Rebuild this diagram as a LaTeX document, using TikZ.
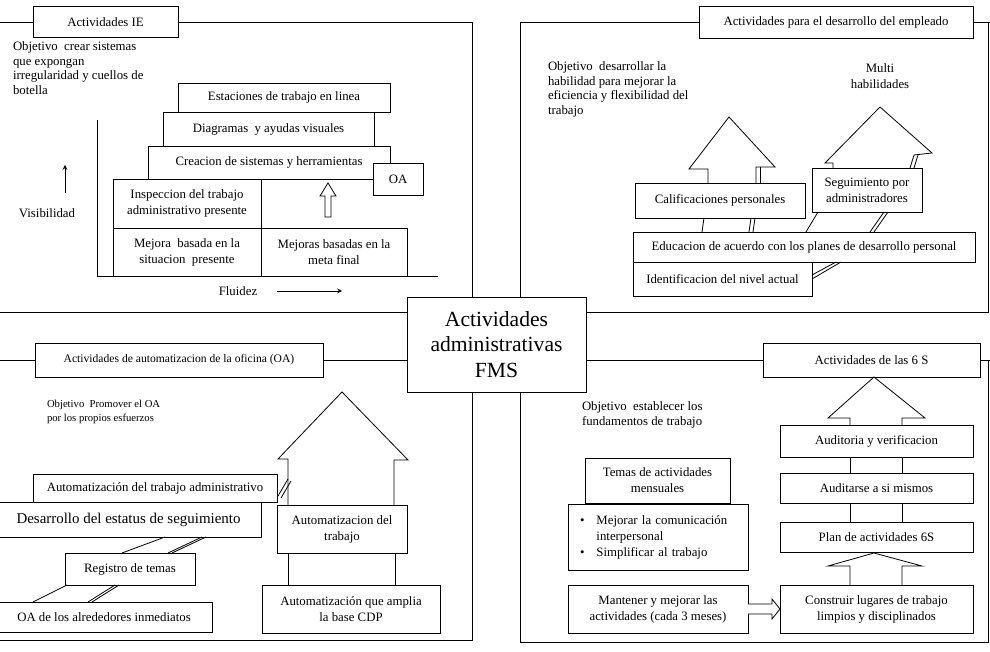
\documentclass[tikz,border=0pt]{standalone}
\usepackage{fontspec}
\setmainfont{Liberation Serif}
\usetikzlibrary{calc}
\begin{document}
\begin{tikzpicture}[x=0.75pt, y=-0.75pt,
  every node/.style={inner sep=0pt, outer sep=0pt},
  ln/.style={line width=0.6pt, line join=miter},
  box/.style={draw, line width=0.6pt, fill=white, align=center,
    font=\fontsize{9.6}{12}\selectfont},
  sz/.style 2 args={minimum width=#1*0.75pt, minimum height=#2*0.75pt},
  txt/.style={align=left, anchor=north west, font=\fontsize{9.6}{10.9}\selectfont},
  ctxt/.style={align=center, font=\fontsize{9.6}{11.5}\selectfont}]

\fill[white] (0,0) rectangle (990,652);
\useasboundingbox (0,0) rectangle (990,652);

% reference lines of the four frames
\coordinate (cl) at (472,0);
\coordinate (cr) at (520,0);
\coordinate (xr) at (988,0);
\coordinate (xe) at (990,0);
\coordinate (yt) at (0,22);
\coordinate (ya) at (0,312);
\coordinate (yb) at (0,360);
\coordinate (yd) at (0,640);
\coordinate (ye) at (0,642);

% centre
\node[box, sz={179}{95}, font=\fontsize{16.2}{19}\selectfont] (fms) at (496.5,344.5)
  {Actividades\\administrativas\\FMS};

% ---------------- IE activities (top left) ----------------
\node[box, sz={145}{31}] (tIE) at (105.5,22) {Actividades IE};
\node[txt] (o1) at (13,42) {Objetivo\ \ crear sistemas\\que expongan\\irregularidad y cuellos de\\botella};

\draw[ln] (97,120) -- (97,276) -- (438,276);
\node[ctxt] (vis) at (47,213) {Visibilidad};
\draw[ln, ->, >=stealth] (65,193) -- (65,165);
\node[ctxt] (flu) at (238,291) {Fluidez};
\draw[ln, ->, >=stealth] (277,291) -- (342,291);

\node[box, sz={212}{29}] (est) at (284,97.5) {Estaciones de trabajo en linea};
\node[box, sz={211}{34}] (dia) at (268.5,129) {Diagramas\ \ y ayudas visuales};
\node[box, sz={242}{33}] (cre) at (269,162.5) {Creacion de sistemas y herramientas};
\node[box, sz={148}{49}] (ins) at (187,203.5) {Inspeccion del trabajo\\administrativo presente};
\node[box, sz={148}{48}] (mej) at (187,252) {Mejora\ \ basada en la\\situacion\ \ presente};
\node[box, sz={146}{48}] (met) at (334,252) {Mejoras basadas en la\\meta final};
\node[box, sz={50}{32}] (oa) at (398,179) {OA};
\draw[ln] (ins.north east) -- (oa.west |- ins.north);
\draw[ln, fill=white] (325,217) -- (325,196) -- (320,196) -- (328,183) -- (336,196)
  -- (331,196) -- (331,217) -- cycle;

\draw[ln] (yt) -- (tIE.west);
\draw[ln] (tIE.east) -| (fms.north -| cl);
\draw[ln] (ya) -- (ya -| fms.west);

% ---------------- employee development (top right) ----------------
\node[box, sz={274}{32}] (tDE) at (836,22) {Actividades para el desarrollo del empleado};
\node[txt] (o2) at (548,62) {Objetivo\ \ desarrollar la\\habilidad para mejorar la\\eficiencia y flexibilidad del\\trabajo};
\node[ctxt] (mul) at (880,76) {Multi\\habilidades};

% arrow heads rising from the stack
\draw[ln] (708,183) -- (708,169) -- (689,169) -- (729,117) -- (775,167) -- (756,167) -- (756,183);
\draw[ln] (760,167) -- (760,183);
\draw[ln] (833,168) -- (833,163) -- (825,163) -- (880,107) -- (932,153) -- (914,155) -- (910,168);
\draw[ln] (918,155) -- (914,168);

\node[box, sz={170}{35}] (cal) at (720,200.5) {Calificaciones personales};
\node[box, sz={110}{44}] (seg) at (867,190) {Seguimiento por\\administradores};
\node[box, sz={342}{30}] (edu) at (804,247) {Educacion de acuerdo con los planes de desarrollo personal};
\node[box, sz={179}{34}] (ide) at (722.5,279) {Identificacion del nivel actual};

\draw[ln] (704,218) -- (702,232);
\draw[ln] (751,218) -- (749,232);
\draw[ln] (755,218) -- (753,232);
\draw[ln] (818,212) -- (806,232);
\draw[ln] (884,212) -- (870,232);
\draw[ln] (888,212) -- (874,232);
\draw[ln] (812,275) -- (836,262);
\draw[ln] (812,279) -- (841,262);

\draw[ln] (tDE.west) -| (fms.north -| cr);
\draw[ln] (tDE.east) -- (tDE.east -| xe);
\draw[ln] (xr |- yt) -- (xr |- ya) -- (fms.east |- ya);

% ---------------- office automation (bottom left) ----------------
\node[box, sz={288}{34}, font=\fontsize{8.7}{10}\selectfont] (tOA) at (179,360)
  {Actividades de automatizacion de la oficina (OA)};
\node[txt, font=\fontsize{8}{10.9}\selectfont] (o3) at (47,400) {Objetivo\ \ Promover el OA\\por los propios esfuerzos};

\draw[ln] (288,505) -- (288,459) -- (278,459) -- (342,392) -- (408,460) -- (394,460) -- (394,505);
\draw[ln] (288,553) -- (288,585);
\draw[ln] (395,553) -- (395,585);

\node[box, sz={244}{28}] (aadm) at (155,488) {Automatización del trabajo administrativo};
\node[box, sz={265}{35}, font=\fontsize{11.2}{13}\selectfont] (des) at (128.5,519.5)
  {Desarrollo del estatus de seguimiento};
\node[box, sz={130}{32}] (reg) at (130,569) {Registro de temas};
\node[box, sz={216}{30}] (alr) at (104,617) {OA de los alrededores inmediatos};
\node[box, sz={130}{48}] (atr) at (342,529) {Automatizacion del\\trabajo};
\node[box, sz={178}{48}] (cdp) at (351,609) {Automatización que amplia\\la base CDP};

\draw[ln] (278,496) -- (288,479);
\draw[ln] (281,498) -- (291,481);
\draw[ln] (165,537) -- (122,553);
\draw[ln] (202,537) -- (168,553);
\draw[ln] (206,537) -- (172,553);
\draw[ln] (67,585) -- (33,602);
\draw[ln] (115,585) -- (88,602);
\draw[ln] (119,585) -- (92,602);

\draw[ln] (yb) -- (tOA.west);
\draw[ln] (tOA.east) -- (fms.west |- yb);
\draw[ln] (fms.south -| cl) -- (cl |- yd) -- (yd);

% ---------------- 6S activities (bottom right) ----------------
\node[box, sz={217}{34}] (t6S) at (871.5,360) {Actividades de las 6 S};
\node[txt] (o4) at (582,402) {Objetivo\ \ establecer los\\fundamentos de trabajo};

\draw[ln] (850,425) -- (850,418) -- (828,418) -- (874,377) -- (925,418) -- (902,418) -- (902,425);
\draw[ln] (850,457) -- (850,473);
\draw[ln] (902,457) -- (902,473);
\draw[ln] (850,503) -- (850,522);
\draw[ln] (902,503) -- (902,522);
\draw[ln] (850,585) -- (850,566) -- (828,566) -- (874,553) -- (922,566) -- (902,566) -- (902,585);

\node[box, sz={193}{32}] (aud) at (876.5,441) {Auditoria y verificacion};
\node[box, sz={193}{30}] (aus) at (876.5,488) {Auditarse a si mismos};
\node[box, sz={193}{30}] (pla) at (876.5,537) {Plan de actividades 6S};
\node[box, sz={193}{48}] (con) at (876.5,609) {Construir lugares de trabajo\\limpios y disciplinados};

\node[box, sz={145}{45}] (tem) at (657.5,480.5) {Temas de actividades\\mensuales};
\node[box, sz={180}{66}, text width=156*0.75pt, align=left] (bul) at (658,537)
  {\begin{tabular}{@{}l@{\hspace{9pt}}l@{}}
   \textbullet & Mejorar la comunicación\\
               & interpersonal\\
   \textbullet & Simplificar al trabajo
   \end{tabular}};
\node[box, sz={180}{48}] (man) at (658,609) {Mantener y mejorar las\\actividades (cada 3 meses)};

\draw[ln, fill=white] ($(man.east)+(0,-5)$) -- ($(con.west)+(-8,-5)$) -- ($(con.west)+(-8,-10)$)
  -- (con.west) -- ($(con.west)+(-8,10)$) -- ($(con.west)+(-8,5)$) -- ($(man.east)+(0,5)$);

\draw[ln] (fms.east |- yb) -- (t6S.west);
\draw[ln] (t6S.east) -- (t6S.east -| xe);
\draw[ln] (fms.south -| cr) -- (cr |- ye) -- (xr |- ye) -- (xr |- yb);

\end{tikzpicture}
\end{document}
